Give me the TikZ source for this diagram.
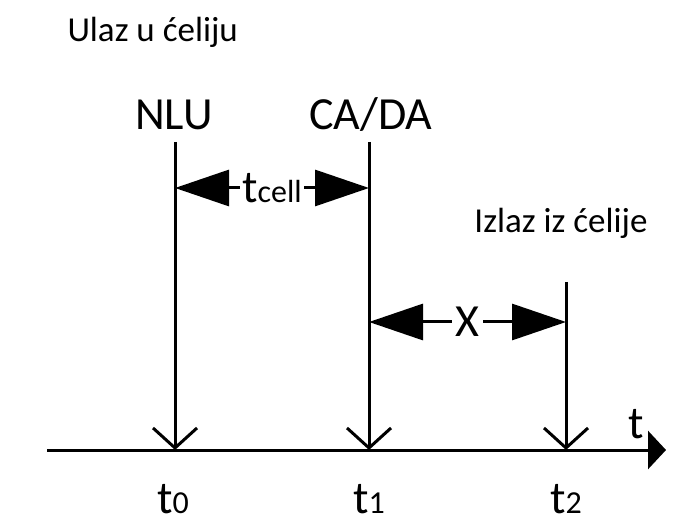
\documentclass[tikz,border=0pt]{standalone}
\usepackage{fontspec}
\setmainfont{Carlito}
\usetikzlibrary{positioning, arrows.meta}
\newcommand{\lowtext}[1]{{\fontsize{16}{19}\selectfont #1}}

\begin{document}
\begin{tikzpicture}[x=0.5pt, y=-0.5pt, line width=1.5pt,
    event/.style={-{Straight Barb[length=10pt, width=22pt]}},
    span/.style={{Triangle[length=27pt, width=18pt]}-{Triangle[length=27pt, width=18pt]}},
    big/.style={font=\fontsize{23}{27}\selectfont, inner sep=0pt},
    small/.style={font=\fontsize{17.5}{21}\selectfont, inner sep=0pt}]
  \useasboundingbox (0,0) rectangle (673,528);

  % time axis
  \coordinate (start) at (47,450);
  \coordinate (end) at (666,450);
  \draw[-{Triangle[length=9pt, width=19pt]}] (start) -- (end);
  \node[big, anchor=base] (tlabel) at (636,438) {t};

  % events on the axis
  \coordinate (e0) at (175,450);
  \coordinate (e1) at (369,450);
  \coordinate (e2) at (566,450);
  \coordinate (top0) at (175,142);
  \coordinate (top1) at (369,142);
  \coordinate (top2) at (566,282);
  \draw[event] (top0) -- (e0);
  \draw[event] (top1) -- (e1);
  \draw[event] (top2) -- (e2);

  \node[big, anchor=base] (t0) at (173,513) {t\lowtext{0}};
  \node[big, anchor=base] (t1) at (369,513) {t\lowtext{1}};
  \node[big, anchor=base] (t2) at (566,513) {t\lowtext{2}};

  % labels above
  \node[small, anchor=base west] (entry) at (66,42) {Ulaz u ćeliju};
  \node[big, anchor=base] (nlu) at (174,130) {NLU};
  \node[big, anchor=base] (cada) at (371,130) {CA/DA};
  \node[small, anchor=base east] (exit) at (649,233) {Izlaz iz ćelije};

  % intervals
  \coordinate (cellL) at (175,188);
  \coordinate (cellR) at (369,188);
  \coordinate (xL) at (369,322);
  \coordinate (xR) at (566,322);
  \draw[span] (cellL) -- node[big, fill=white, inner xsep=1pt] (tcell) {t\lowtext{cell}} (cellR);
  \draw[span] (xL) -- node[big, fill=white, inner xsep=2pt] (x) {X} (xR);
\end{tikzpicture}
\end{document}
